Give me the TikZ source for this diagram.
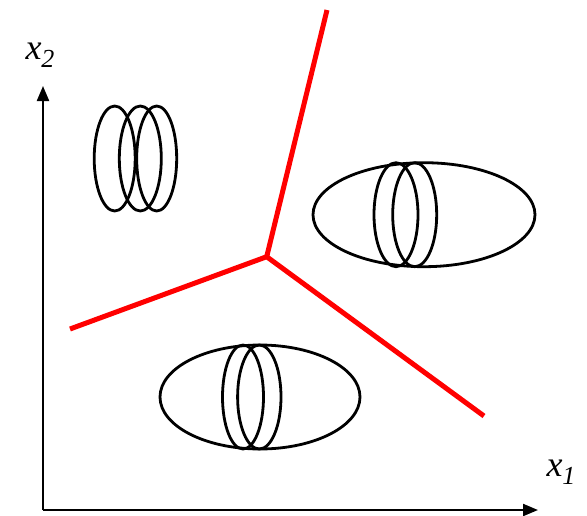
\documentclass[tikz,border=0pt]{standalone}
\usepackage{fontspec}
\setmainfont{Liberation Serif}
\usetikzlibrary{arrows.meta}
\begin{document}
\begin{tikzpicture}[x=1pt,y=-1pt,
  blob/.style={draw=black,line width=2.8pt},
  axis/.style={draw=black,line width=2.2pt,-{Triangle[length=15pt,width=12pt]}},
  bound/.style={draw=red,line width=5pt},
  lab/.style={inner sep=0pt,font=\fontsize{36}{40}\selectfont\itshape}]
\useasboundingbox (0,0) rectangle (587,515);
% axes
\coordinate (O) at (43,510);
\coordinate (Ytip) at (43,86);
\coordinate (Xtip) at (538,510);
\draw[axis] (O) -- (Ytip);
\draw[axis] (O) -- (Xtip);
\node[lab] (x2) at (40,55) {x\raisebox{-8pt}{\fontsize{26}{28}\selectfont 2}};
\node[lab] (x1) at (561,472) {x\raisebox{-8pt}{\fontsize{26}{28}\selectfont 1}};
% top-left cluster
\draw[blob] (114.7,158.5) ellipse [x radius=20.5, y radius=52.5];
\draw[blob] (140.3,158.5) ellipse [x radius=21, y radius=52.5];
\draw[blob] (156.7,158.5) ellipse [x radius=20, y radius=52.5];
% right cluster
\draw[blob] (424,214.7) ellipse [x radius=111, y radius=52];
\draw[blob] (396,214.7) ellipse [x radius=22, y radius=52];
\draw[blob] (414.7,214.7) ellipse [x radius=22, y radius=52];
% bottom cluster
\draw[blob] (260,397) ellipse [x radius=100, y radius=52];
\draw[blob] (243,397) ellipse [x radius=20.5, y radius=52];
\draw[blob] (259.3,397) ellipse [x radius=21.7, y radius=52];
% decision boundaries
\coordinate (J) at (266.7,256.7);
\coordinate (T) at (327,10);
\coordinate (L) at (70,329);
\coordinate (R) at (484,416);
\draw[bound] (T) -- (J) -- (L);
\draw[bound] (J) -- (R);
\end{tikzpicture}
\end{document}
